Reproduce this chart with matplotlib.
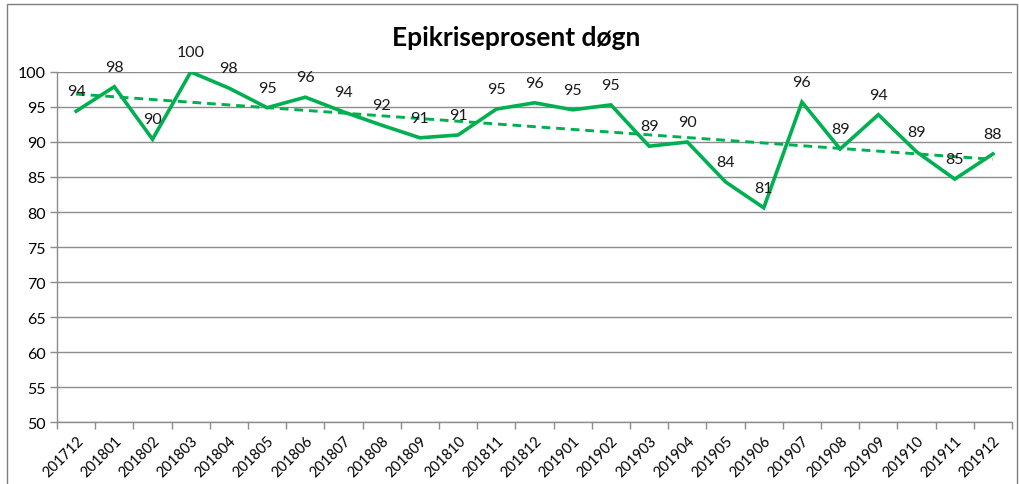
import numpy as np
import matplotlib
matplotlib.use('Agg')
import matplotlib.pyplot as plt
from matplotlib.patches import Rectangle

plt.rcParams['font.family'] = ['Lato', 'DejaVu Sans']

# data
periods = ['201712', '201801', '201802', '201803', '201804', '201805', '201806',
           '201807', '201808', '201809', '201810', '201811', '201812', '201901',
           '201902', '201903', '201904', '201905', '201906', '201907', '201908',
           '201909', '201910', '201911', '201912']
values = [94.4, 97.9, 90.4, 100.0, 97.7, 94.9, 96.4, 94.3, 92.4, 90.6, 91.0,
          94.7, 95.6, 94.6, 95.3, 89.4, 90.0, 84.3, 80.6, 95.7, 89.0, 93.9,
          88.6, 84.7, 88.3]
labels = ['94', '98', '90', '100', '98', '95', '96', '94', '92', '91', '91',
          '95', '96', '95', '95', '89', '90', '84', '81', '96', '89', '94',
          '89', '85', '88']
yticks = list(range(50, 101, 5))

GREEN = '#00B050'
GRID = '#8C8C8C'

fig = plt.figure(figsize=(10.2, 4.85), dpi=100)
ax = fig.add_axes([0.0559, 0.1278, 0.9363, 0.7217])

x = np.arange(len(periods))
ax.plot(x, values, color=GREEN, linewidth=2.6, solid_joinstyle='miter', zorder=3)

# linear trend line
k, m = np.polyfit(x, values, 1)
ax.plot(x, k * x + m, color=GREEN, linewidth=2.1, linestyle=(0, (3, 2)), zorder=2)

for xi, v, lab in zip(x, values, labels):
    ax.annotate(lab, (xi, v), xytext=(0, 14.5), textcoords='offset points',
                ha='center', va='center', fontsize=11.5, color='#1a1a1a', zorder=4)

ax.set_xlim(-0.5, len(periods) - 0.5)
ax.set_ylim(50, 100)
ax.set_yticks(yticks)
ax.set_yticklabels([str(t) for t in yticks], fontsize=11.5)
ax.yaxis.grid(True, color=GRID, linewidth=1.0)
ax.set_axisbelow(True)

ax.set_xticks(x)
ax.set_xticklabels(periods, rotation=45, ha='right', rotation_mode='anchor', fontsize=10.5)
ax.set_xticks(np.arange(-0.5, len(periods)), minor=True)
ax.tick_params(axis='x', which='major', length=0, pad=8)
ax.tick_params(axis='x', which='minor', length=5, color=GRID, width=1)
ax.tick_params(axis='y', length=5, color=GRID, width=1, pad=3)

for s in ['top', 'right']:
    ax.spines[s].set_visible(False)
for s in ['left', 'bottom']:
    ax.spines[s].set_color(GRID)
    ax.spines[s].set_linewidth(1.0)

fig.text(516 / 1020, 1 - 38 / 485, 'Epikriseprosent døgn', fontsize=19,
         fontweight='bold', ha='center', va='center')

# outer chart frame
fig.patches.append(Rectangle((7 / 1020, -0.05), 1010 / 1020, 1 - 5 / 485 + 0.05,
                             transform=fig.transFigure, fill=False,
                             edgecolor='#7f7f7f', linewidth=1.0))

fig.savefig('out.png', dpi=100)
